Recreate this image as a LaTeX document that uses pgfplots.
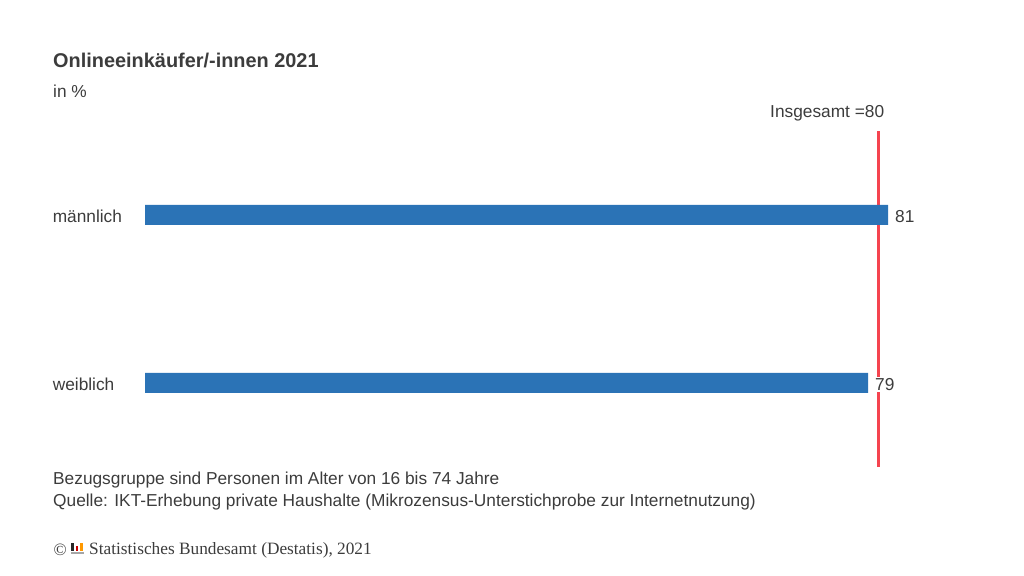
\documentclass[border=0pt]{standalone}
\usepackage{pgfplots}
\pgfplotsset{compat=1.18}
\usepackage{fontspec}
\setmainfont{Liberation Sans}
\newfontfamily\serifx{Liberation Serif}
\definecolor{txt}{HTML}{3C3C3C}
\definecolor{barblue}{HTML}{2B73B6}
\definecolor{refred}{HTML}{F5444F}
\newcommand{\px}[1]{\fontsize{#1bp}{#1bp}\selectfont}
\begin{document}
\begin{tikzpicture}[x=1bp,y=1bp]
\path[use as bounding box] (0,0) rectangle (1024,576);
\begin{axis}[
  at={(145bp,109bp)}, anchor=south west,
  width=783bp, height=336bp, scale only axis,
  xmin=6.7, xmax=85, ymin=-0.5, ymax=1.5,
  axis x line=none,
  axis y line=left,
  y axis line style={draw=none},
  major tick length=0pt,
  ytick={0,1},
  yticklabels={weiblich,männlich},
  yticklabel style={text width=92bp, align=left, anchor=east, inner sep=0pt, text=txt, font=\px{17.3}, yshift=-1.5bp},
  tick label style={/pgf/number format/assume math mode=true},
]
\addplot[refred, line width=3bp, no marks] coordinates {(80,-0.5) (80,1.5)};
\addplot[xbar, bar width=20bp, fill=barblue, draw=none,
  nodes near coords,
  nodes near coords style={/pgf/number format/assume math mode=true, font=\px{17.3}, text=txt, fill=white, anchor=west, inner xsep=0pt, inner ysep=1pt, xshift=7bp, yshift=-1.5bp},
  ] coordinates {(79,0) (81,1)};
\end{axis}
\node[anchor=base west, inner sep=0pt, text=txt, font=\px{19.9}\bfseries] at (53,508) {Onlineeinkäufer/-innen 2021};
\node[anchor=base west, inner sep=0pt, text=txt, font=\px{17.3}] at (53,478.5) {in \%};
\node[anchor=base west, inner sep=0pt, text=txt, font=\px{17.3}] at (770,458.5) {Insgesamt =80};
\node[anchor=base west, inner sep=0pt, text=txt, font=\px{17.3}] at (53,91) {Bezugsgruppe sind Personen im Alter von 16 bis 74 Jahre};
\node[anchor=base west, inner sep=0pt, text=txt, font=\px{17.3}] at (53,69.5) {Quelle: IKT-Erhebung private Haushalte (Mikrozensus-Unterstichprobe zur Internetnutzung)};
\node[anchor=base west, inner sep=0pt, text=txt, font=\px{17.3}\serifx] at (53.5,20.5) {©};
\node[anchor=base west, inner sep=0pt, text=txt, font=\px{17.3}\serifx] at (89,21.5) {Statistisches Bundesamt (Destatis), 2021};
% logo
\fill[black!85] (71,25) rectangle (73.5,33);
\fill[red!80!black] (75.5,25) rectangle (78,30);
\fill[orange!80!yellow] (80,25) rectangle (83,33);
\fill[black!35] (71,21.5) rectangle (84,23.5);
\end{tikzpicture}
\end{document}
